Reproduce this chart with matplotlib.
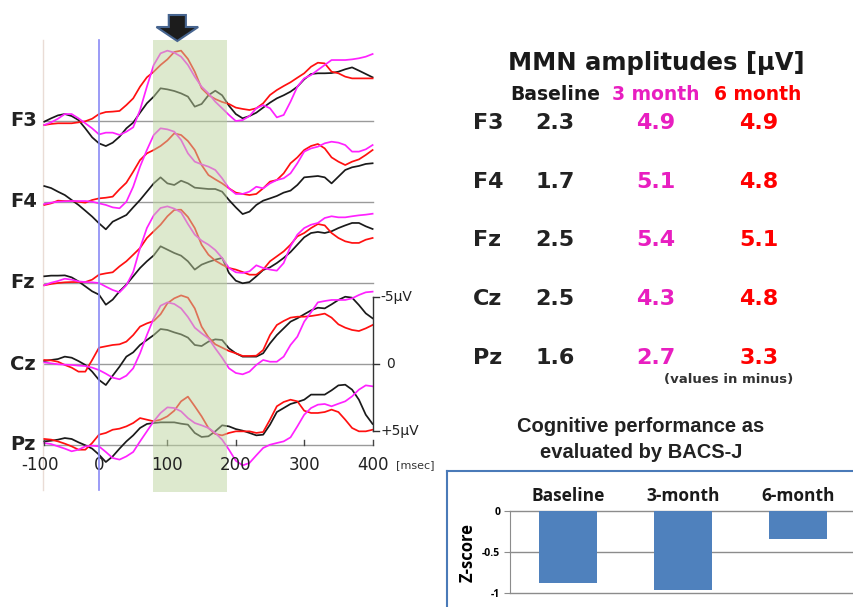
import matplotlib
matplotlib.use("Agg")
import matplotlib.pyplot as plt
from matplotlib.patches import Polygon, Rectangle
from matplotlib.lines import Line2D

W, H = 854, 607

# ---------------- data ----------------
times = list(range(-80, 401, 10))   # ms, sampling grid of the traces
channels = ["F3", "F4", "Fz", "Cz", "Pz"]

# amplitudes in microvolts (negative = upward, as in the original plot)
f3_base = [0.05, -0.2, -0.42, -0.52, -0.37, -0.07, 0.55, 1.22, 1.67, 1.87,
           1.62, 1.17, 0.55, 0.12, -0.62, -1.32, -1.82, -2.44, -2.36, -2.24,
           -2.06, -1.82, -1.07, -1.27, -1.92, -2.26, -1.92, -1.14, -0.52, -0.2,
           -0.37, -0.62, -1.0, -1.37, -1.69, -1.92, -2.19, -2.56, -3.11, -3.51,
           -3.56, -3.56, -3.58, -3.68, -3.86, -4.0, -3.76, -3.51, -3.26]
f3_m3 = [0.3, 0.1, -0.17, -0.52, -0.52, -0.2, 0.17, 0.55, 1.0, 0.87,
         0.87, 1.04, 0.8, 0.47, -0.82, -2.56, -4.18, -5.05, -5.25, -5.1,
         -4.8, -4.18, -3.31, -2.56, -2.06, -1.44, -0.95, -0.45, 0.0, -0.07,
         -0.37, -0.95, -1.19, -0.95, -0.27, -0.45, -1.44, -2.56, -3.18, -3.43,
         -3.81, -4.18, -4.55, -4.55, -4.55, -4.6, -4.68, -4.8, -5.0]
f3_m6 = [0.3, 0.22, 0.17, 0.17, 0.17, 0.1, 0.02, -0.17, -0.52, -0.67,
         -0.7, -0.75, -1.19, -1.69, -2.56, -3.26, -3.68, -4.18, -4.6, -5.15,
         -5.25, -4.63, -3.68, -2.44, -1.94, -1.64, -1.42, -1.27, -1.0, -0.9,
         -0.82, -0.95, -1.32, -1.94, -2.31, -2.61, -2.89, -3.23, -3.56, -4.05,
         -4.35, -4.3, -3.68, -3.56, -3.31, -3.18, -3.18, -3.18, -3.18]

f4_base = [-1.19, -1.04, -0.77, -0.52, -0.15, 0.22, 0.65, 1.09, 1.59, 2.04,
           1.47, 1.22, 0.97, 0.4, -0.15, -0.77, -1.39, -1.84, -1.39, -1.27,
           -1.59, -1.39, -1.07, -1.02, -0.97, -0.97, -0.77, -0.15, 0.4, 0.9,
           0.72, 0.22, -0.1, -0.27, -0.45, -0.7, -0.85, -1.27, -1.84, -1.89,
           -1.94, -1.84, -1.39, -1.89, -2.39, -2.59, -2.69, -2.84, -2.89]
f4_m3 = [0.15, 0.05, -0.02, -0.05, -0.07, -0.07, -0.07, -0.02, 0.1, 0.22,
         0.4, 0.47, -0.02, -1.14, -2.64, -3.88, -5.0, -5.5, -5.42, -5.25,
         -4.63, -3.63, -3.01, -2.81, -2.64, -2.39, -1.77, -1.02, -0.6, -0.6,
         -0.77, -1.14, -1.02, -1.39, -1.64, -1.77, -2.14, -2.89, -3.76, -4.0,
         -4.13, -4.38, -4.5, -4.43, -4.25, -3.76, -3.76, -3.93, -4.25]
f4_m6 = [0.22, 0.1, -0.1, -0.07, -0.07, -0.02, 0.05, -0.15, -0.27, -0.32,
         -0.4, -0.95, -1.44, -2.26, -3.13, -3.63, -3.88, -4.18, -4.58, -5.12,
         -5.0, -4.55, -3.88, -2.76, -2.01, -1.69, -1.39, -1.02, -0.7, -0.6,
         -0.52, -0.6, -1.02, -1.52, -1.64, -2.14, -2.89, -3.33, -3.88, -4.18,
         -4.33, -4.0, -3.33, -3.01, -2.76, -3.01, -3.18, -3.51, -3.88]

fz_base = [-0.5, -0.55, -0.55, -0.57, -0.42, -0.12, 0.25, 0.62, 0.87, 1.62,
           1.24, 0.62, 0.12, -0.5, -1.12, -1.62, -2.06, -2.74, -2.49, -2.24,
           -2.04, -1.62, -1.0, -1.37, -1.57, -1.74, -1.87, -0.75, -0.17, 0.02,
           -0.07, -0.5, -0.97, -1.17, -1.49, -1.87, -2.31, -2.86, -3.41, -3.73,
           -3.81, -3.73, -3.86, -4.1, -4.3, -4.48, -4.48, -4.23, -4.03]
fz_m3 = [0.17, -0.02, -0.15, -0.32, -0.25, -0.12, -0.07, -0.05, 0.0, 0.27,
         0.52, 0.7, 0.17, -0.82, -2.61, -4.1, -5.05, -5.6, -5.72, -5.55,
         -5.27, -4.4, -3.61, -3.16, -2.86, -2.46, -1.87, -1.12, -0.8, -0.75,
         -0.87, -1.32, -1.12, -1.0, -0.92, -1.49, -2.74, -3.61, -4.1, -4.35,
         -4.48, -4.85, -4.98, -4.9, -4.9, -4.98, -5.05, -5.1, -5.17]
fz_m6 = [0.17, 0.07, 0.0, -0.05, -0.07, -0.07, -0.07, -0.25, -0.62, -0.72,
         -0.8, -1.24, -1.62, -2.11, -2.61, -3.36, -3.86, -4.35, -4.98, -5.45,
         -5.47, -4.93, -4.1, -2.86, -2.11, -1.67, -1.37, -1.12, -1.0, -0.82,
         -0.62, -0.62, -1.0, -1.62, -1.99, -2.36, -2.86, -3.48, -3.73, -4.1,
         -4.4, -4.3, -3.73, -3.36, -3.11, -2.99, -2.99, -3.23, -3.36]

cz_base = [-0.22, -0.3, -0.37, -0.55, -0.47, -0.22, 0.07, 0.57, 1.19, 1.57,
           0.87, 0.2, -0.55, -0.87, -1.42, -1.79, -2.16, -2.61, -2.54, -2.36,
           -2.21, -1.97, -1.42, -1.34, -1.67, -1.84, -1.79, -1.17, -0.8, -0.55,
           -0.55, -0.55, -0.8, -1.54, -2.16, -2.66, -3.16, -3.41, -3.71, -4.0,
           -4.2, -4.15, -4.45, -4.78, -5.02, -4.95, -4.4, -3.78, -3.41]
cz_m3 = [-0.12, -0.05, 0.02, 0.05, 0.07, 0.12, 0.15, 0.27, 0.45, 0.72,
         1.02, 1.14, 0.87, 0.32, -0.8, -2.16, -3.41, -4.35, -4.6, -4.48,
         -4.15, -3.51, -2.71, -2.29, -1.92, -1.17, -0.47, 0.32, 0.67, 0.77,
         0.57, 0.07, -0.3, -0.17, -0.17, -0.55, -1.42, -2.04, -3.16, -3.86,
         -4.6, -4.7, -4.78, -4.78, -4.78, -4.9, -5.15, -5.35, -5.4]
cz_m6 = [-0.3, -0.27, -0.17, 0.07, 0.27, 0.57, 0.57, -0.3, -1.22, -1.32,
         -1.42, -1.47, -1.67, -2.16, -2.79, -3.03, -3.21, -3.71, -4.53, -4.9,
         -5.12, -4.95, -4.15, -2.79, -1.99, -1.47, -1.22, -0.97, -0.8, -0.6,
         -0.6, -0.62, -1.04, -2.16, -2.91, -3.21, -3.46, -3.53, -3.53, -3.58,
         -3.66, -3.76, -3.46, -2.96, -2.71, -2.54, -2.46, -2.66, -2.91]

pz_base = [-0.27, -0.32, -0.4, -0.52, -0.45, -0.2, 0.02, 0.27, 0.72, 1.27,
           0.85, 0.27, -0.27, -0.72, -1.27, -1.57, -1.64, -1.69, -1.69, -1.69,
           -1.59, -1.52, -0.9, -0.6, -0.65, -1.02, -1.47, -1.39, -1.19, -1.07,
           -0.9, -0.72, -0.77, -1.52, -2.46, -2.76, -3.06, -3.21, -3.38, -3.76,
           -3.76, -3.76, -4.08, -4.45, -4.5, -4.13, -3.38, -2.26, -1.57]
pz_m3 = [-0.15, -0.07, 0.1, 0.27, 0.47, 0.35, 0.1, 0.05, 0.1, 0.52,
         0.97, 1.09, 0.85, 0.52, -0.27, -1.02, -1.77, -2.39, -2.81, -2.76,
         -2.51, -2.01, -1.64, -1.47, -1.27, -0.9, -0.4, 0.35, 1.17, 1.52,
         1.34, 0.77, 0.22, -0.02, -0.15, -0.27, -0.57, -1.39, -2.26, -2.76,
         -3.01, -3.06, -2.89, -3.08, -3.26, -3.63, -4.13, -4.45, -4.38]
pz_m6 = [-0.45, -0.4, -0.27, -0.1, 0.1, 0.35, 0.35, -0.15, -0.77, -0.9,
         -1.14, -1.22, -1.39, -1.64, -2.01, -1.89, -1.77, -1.89, -2.14, -2.56,
         -3.26, -3.61, -2.89, -2.14, -1.27, -0.82, -0.72, -0.9, -1.02, -1.02,
         -1.02, -0.9, -0.97, -1.89, -2.89, -3.21, -3.38, -3.26, -2.56, -2.39,
         -2.39, -2.46, -2.64, -2.46, -1.89, -1.27, -1.02, -1.02, -1.14]

erp = {"F3": (f3_base, f3_m3, f3_m6), "F4": (f4_base, f4_m3, f4_m6),
       "Fz": (fz_base, fz_m3, fz_m6), "Cz": (cz_base, cz_m3, cz_m6),
       "Pz": (pz_base, pz_m3, pz_m6)}

xtick_vals = [-100, 0, 100, 200, 300, 400]

# MMN table
table_headers = ["Baseline", "3 month", "6 month"]
mmn_base = [2.3, 1.7, 2.5, 2.5, 1.6]
mmn_m3 = [4.9, 5.1, 5.4, 4.3, 2.7]
mmn_m6 = [4.9, 4.8, 5.1, 4.8, 3.3]

# BACS-J
bacs_labels = ["Baseline", "3-month", "6-month"]
bacs_values = [-0.88, -0.96, -0.34]
bacs_yticks = [0, -0.5, -1]

# ---------------- styling ----------------
C_BLACK = "#1a1a1a"
C_MAG = "#ff22ff"
C_RED = "#ff1010"
T_MAG = "#e81ec0"
T_RED = "#ff0000"

def fx(px):
    return px / W

def fy(py):
    return 1 - py / H

fig = plt.figure(figsize=(W / 100, H / 100), dpi=100)

# ---------------- ERP panel ----------------
PXT = 0.684      # px per ms
PX0 = 99         # px of t=0
PXUV = 13.4      # px per microvolt
PY0 = 121        # px of F3 baseline
SPACING = 81 / PXUV

ax = fig.add_axes([0, fy(500), fx(440), 500 / H])
ax.set_xlim(-PX0 / PXT, (440 - PX0) / PXT)
ax.set_ylim((500 - PY0) / PXUV, -PY0 / PXUV)
ax.axis("off")

def dy(py):
    return (py - PY0) / PXUV

top_y, bot_y = dy(40), dy(492)

for i, ch in enumerate(channels):
    off = i * SPACING
    ax.plot([times[0], 400], [off, off], color="#9a9a9a", lw=1.0, zorder=1)
    b, m3, m6 = erp[ch]
    ax.plot(times, [v + off for v in b], color=C_BLACK, lw=1.25, zorder=2)
    ax.plot(times, [v + off for v in m6], color=C_RED, lw=1.25, zorder=2)
    ax.plot(times, [v + off for v in m3], color=C_MAG, lw=1.25, zorder=2)
    ax.text((10 - PX0) / PXT, off, ch, fontsize=14, fontweight="bold",
            ha="left", va="center", color="#222222")

# green window (semi-transparent, on top of traces)
ax.add_patch(Rectangle((79, top_y), 108, bot_y - top_y, facecolor=(0.74, 0.83, 0.62),
                       alpha=0.5, edgecolor="none", zorder=3))
# blue stimulus line and light left border
ax.plot([0, 0], [top_y, dy(490)], color="#8a8af5", lw=1.2, zorder=4)
ax.plot([-82, -82], [top_y, dy(490)], color="#eadcd6", lw=1.0, zorder=1)

# arrow
arrow_pts = [(102, dy(15)), (127, dy(15)), (127, dy(27)), (145, dy(27)),
             (114.5, dy(41)), (84, dy(27)), (102, dy(27))]
ax.add_patch(Polygon(arrow_pts, closed=True, facecolor="#1c1c1c", edgecolor="#46648f",
                     lw=1.5, clip_on=False, zorder=5))

# x ticks on Pz baseline
pz_off = 4 * SPACING
for t in [-81, 100, 200, 300, 400]:
    ax.plot([t, t], [pz_off - 0.4, pz_off], color="#444444", lw=1.0, zorder=2)
label_y = dy(465)
for t in xtick_vals:
    xpos = -86 if t == -100 else t
    ax.text(xpos, label_y, str(t), fontsize=12, ha="center", va="center", color="#222222")
ax.text(400 + 23 / PXT, label_y, "[msec]", fontsize=8, ha="left", va="center", color="#333333")

# scale bar
cz_off = 3 * SPACING
ax.plot([400, 400], [cz_off - 5, cz_off + 5], color="#333333", lw=1.0, clip_on=False)
for v, lab in [(-5, "-5µV"), (0, "0"), (5, "+5µV")]:
    ax.plot([400, 409], [cz_off + v, cz_off + v], color="#333333", lw=1.0, clip_on=False)
    ax.text(411 if lab != "0" else 420, cz_off + v, lab, fontsize=10, ha="left", va="center",
            color="#222222", clip_on=False)

# ---------------- MMN table ----------------
fig.text(fx(656), fy(63), "MMN amplitudes [µV]", fontsize=17.5, fontweight="bold",
         ha="center", va="center", color="#1a1a1a")
hdr_x = [555, 656, 758]
hdr_col = ["#1a1a1a", T_MAG, T_RED]
for x, h, c in zip(hdr_x, table_headers, hdr_col):
    fig.text(fx(x), fy(95), h, fontsize=13.5, fontweight="bold", ha="center", va="center", color=c)
row_y = [123, 182, 240, 299, 358]
for i, ch in enumerate(channels):
    y = fy(row_y[i])
    fig.text(fx(473), y, ch, fontsize=16, fontweight="bold", ha="left", va="center", color="#222222")
    fig.text(fx(555), y, f"{mmn_base[i]:.1f}", fontsize=16, fontweight="bold", ha="center",
             va="center", color="#222222")
    fig.text(fx(656), y, f"{mmn_m3[i]:.1f}", fontsize=16, fontweight="bold", ha="center",
             va="center", color=T_MAG)
    fig.text(fx(759), y, f"{mmn_m6[i]:.1f}", fontsize=16, fontweight="bold", ha="center",
             va="center", color=T_RED)
fig.text(fx(729), fy(380), "(values in minus)", fontsize=9.5, fontweight="bold",
         ha="center", va="center", color="#333333")

# ---------------- BACS-J bar chart ----------------
fig.text(fx(641), fy(426), "Cognitive performance as", fontsize=14.5, fontweight="bold",
         family="Liberation Sans", ha="center", va="center", color="#222222")
fig.text(fx(641), fy(452), "evaluated by BACS-J", fontsize=14.5, fontweight="bold",
         family="Liberation Sans", ha="center", va="center", color="#222222")

fig.add_artist(Line2D([fx(447), fx(447)], [fy(471), fy(607)], color="#4a7ab8", lw=1.5))
fig.add_artist(Line2D([fx(447), fx(854)], [fy(471), fy(471)], color="#4a7ab8", lw=1.5))

bx = fig.add_axes([fx(510), fy(593), (854 - 510) / W, 82 / H])
bx.set_xlim(-0.504, 2.487)
bx.set_ylim(-1, 0)
for yv in bacs_yticks:
    bx.axhline(yv, color="#8c8c8c", lw=1.0, zorder=1, clip_on=False)
bx.bar(range(len(bacs_values)), bacs_values, width=0.5, color="#4f81bd", zorder=2)
for s in ["top", "right", "bottom"]:
    bx.spines[s].set_visible(False)
bx.spines["left"].set_color("#8c8c8c")
bx.set_xticks([])
bx.set_yticks(bacs_yticks)
bx.set_yticklabels([str(v) for v in bacs_yticks], fontsize=7.5,
                   fontweight="bold", family="Open Sans")
bx.tick_params(axis="y", length=4, color="#8c8c8c", pad=3)
for i, lab in enumerate(bacs_labels):
    bx.text(i, 0.18, lab, fontsize=12.5, fontweight="bold", family="Open Sans",
            ha="center", va="center", color="#1a1a1a", clip_on=False)
bx.set_ylabel("Z-score", fontsize=12, fontweight="bold", family="Open Sans", labelpad=4)

fig.savefig("out.png", dpi=100)
